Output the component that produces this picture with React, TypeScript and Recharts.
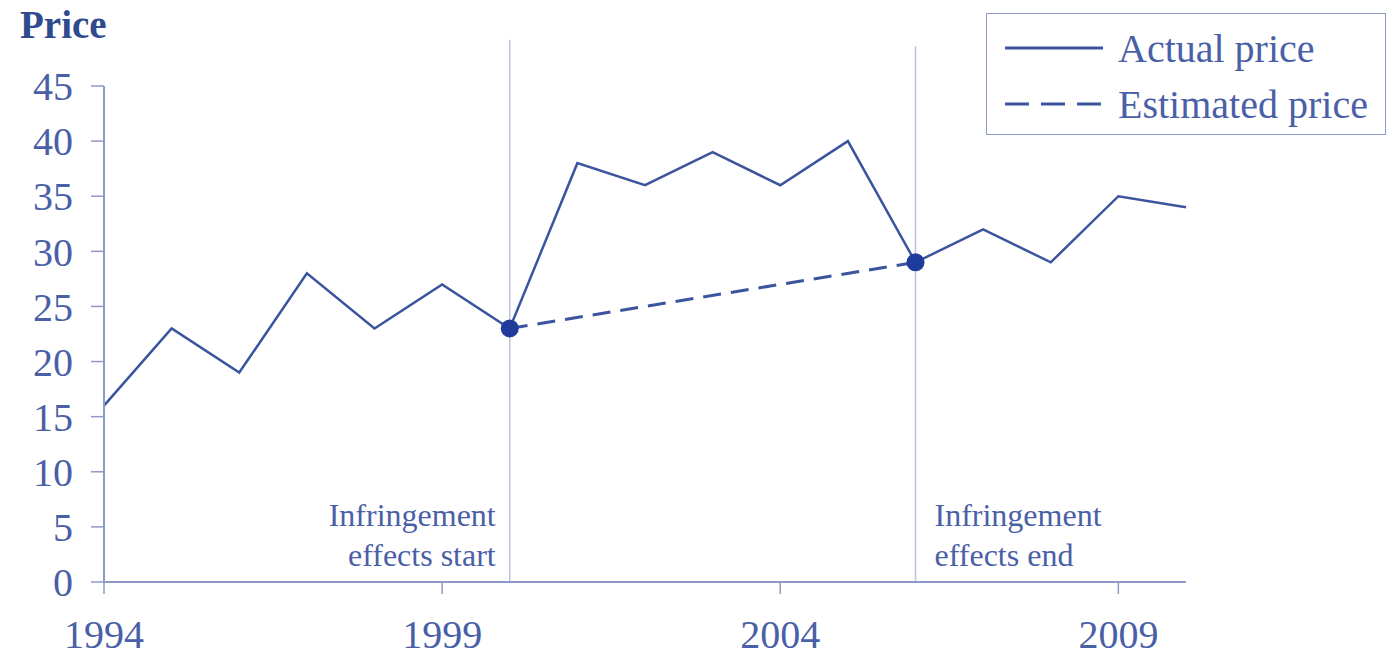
import React from 'react';
import {
  LineChart,
  Line,
  XAxis,
  YAxis,
  ReferenceLine,
  Legend,
} from 'recharts';

// Chart data
const years = [1994, 1995, 1996, 1997, 1998, 1999, 2000, 2001, 2002, 2003, 2004, 2005, 2006, 2007, 2008, 2009, 2010];
const actualPrice = [16, 23, 19, 28, 23, 27, 23, 38, 36, 39, 36, 40, 29, 32, 29, 35, 34];
const estimatedPrice: (number | null)[] = [null, null, null, null, null, null, 23, null, null, null, null, null, 29, null, null, null, null];
const xTicks = [1994, 1999, 2004, 2009];
const yTicks = [0, 5, 10, 15, 20, 25, 30, 35, 40, 45];
const infringementStart = 2000;
const infringementEnd = 2006;

const data = years.map((year, i) => ({
  year,
  actual: actualPrice[i],
  estimated: estimatedPrice[i],
}));

const FONT = '"Liberation Serif", "Times New Roman", serif';
const LINE = '#3b549e';
const DOT = '#1f3c9c';
const TEXT = '#4a60a6';
const AXIS = '#8d9ac5';
const GUIDE = '#bcc3dc';

const ChartLegend = () => (
  <div
    style={{
      width: 400,
      height: 122,
      boxSizing: 'border-box',
      border: `1.5px solid ${AXIS}`,
      background: '#fff',
      paddingTop: 6,
      fontFamily: FONT,
      fontSize: 40,
      color: TEXT,
    }}
  >
    {[
      { label: 'Actual price', dash: undefined },
      { label: 'Estimated price', dash: '24 12' },
    ].map((row) => (
      <div key={row.label} style={{ display: 'flex', alignItems: 'center', height: 56 }}>
        <svg width={98} height={10} style={{ marginLeft: 18, marginRight: 15 }}>
          <line x1={0} y1={5} x2={98} y2={5} stroke={LINE} strokeWidth={3} strokeDasharray={row.dash} />
        </svg>
        <span style={{ whiteSpace: 'nowrap' }}>{row.label}</span>
      </div>
    ))}
  </div>
);

const guideLabel = (lines: string[], side: 'left' | 'right') => (props: any) => {
  const { viewBox } = props;
  const bottom = viewBox.y + viewBox.height;
  const x = side === 'left' ? viewBox.x - 14 : viewBox.x + 19;
  return (
    <text
      x={x}
      y={bottom - 56}
      textAnchor={side === 'left' ? 'end' : 'start'}
      fill={TEXT}
      fontFamily={FONT}
      fontSize={32}
    >
      <tspan x={x} dy={0}>{lines[0]}</tspan>
      <tspan x={x} dy={40}>{lines[1]}</tspan>
    </text>
  );
};

export default function App() {
  return (
    <div style={{ position: 'absolute', left: 0, top: 0, width: 1394, height: 661, background: '#fff' }}>
      <div
        style={{
          position: 'absolute',
          left: 20,
          top: 5,
          fontFamily: FONT,
          fontSize: 39,
          lineHeight: '39px',
          fontWeight: 'bold',
          color: '#2f4b8e',
        }}
      >
        Price
      </div>
      <LineChart
        width={1394}
        height={661}
        data={data}
        margin={{ top: 86, right: 208, bottom: 0, left: 0 }}
      >
        <XAxis
          type="number"
          dataKey="year"
          domain={[1994, 2010]}
          ticks={xTicks}
          tickSize={12}
          tickMargin={26}
          height={79}
          axisLine={{ stroke: AXIS, strokeWidth: 2 }}
          tickLine={{ stroke: AXIS, strokeWidth: 1.5 }}
          tick={{ fill: TEXT, fontFamily: FONT, fontSize: 40 }}
        />
        <YAxis
          type="number"
          domain={[0, 45]}
          ticks={yTicks}
          tickSize={13}
          tickMargin={18}
          width={104}
          axisLine={{ stroke: AXIS, strokeWidth: 2 }}
          tickLine={{ stroke: AXIS, strokeWidth: 1.5 }}
          tick={{ fill: TEXT, fontFamily: FONT, fontSize: 40 }}
        />
        <ReferenceLine
          segment={[{ x: infringementStart, y: 0 }, { x: infringementStart, y: 49.2 }]}
          ifOverflow="visible"
          stroke={GUIDE}
          strokeWidth={1.5}
          label={guideLabel(['Infringement', 'effects start'], 'left')}
        />
        <ReferenceLine
          segment={[{ x: infringementEnd, y: 0 }, { x: infringementEnd, y: 48.6 }]}
          ifOverflow="visible"
          stroke={GUIDE}
          strokeWidth={1.5}
          label={guideLabel(['Infringement', 'effects end'], 'right')}
        />
        <Legend
          layout="vertical"
          align="center"
          verticalAlign="middle"
          wrapperStyle={{ left: 986, top: 13, width: 400, height: 122 }}
          content={() => <ChartLegend />}
        />
        <Line
          type="linear"
          dataKey="actual"
          name="Actual price"
          stroke={LINE}
          strokeWidth={2.5}
          dot={false}
          activeDot={false}
          isAnimationActive={false}
        />
        <Line
          type="linear"
          dataKey="estimated"
          name="Estimated price"
          stroke={LINE}
          strokeWidth={3}
          strokeDasharray="18 10"
          connectNulls
          dot={{ r: 9, fill: DOT, stroke: DOT, strokeWidth: 0 }}
          activeDot={false}
          isAnimationActive={false}
        />
      </LineChart>
    </div>
  );
}
